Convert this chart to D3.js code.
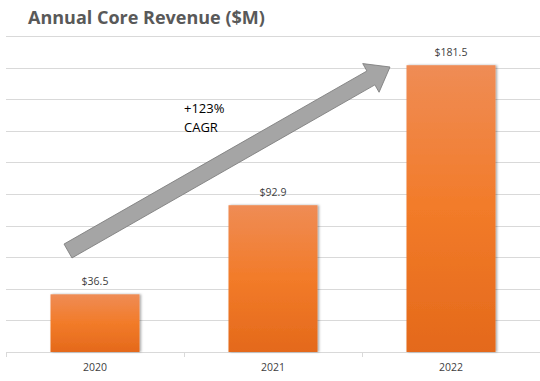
<!DOCTYPE html>
<html>
<head>
<meta charset="utf-8">
<script src="https://cdn.jsdelivr.net/npm/d3@7"></script>
<style>
  html, body { margin: 0; padding: 0; background: #fff; }
  svg { display: block; }
</style>
</head>
<body>
<svg id="chart" width="540" height="381"></svg>
<script>
const categories = ["2020", "2021", "2022"];
const revenue = [36.5, 92.9, 181.5];
const valueLabels = ["$36.5", "$92.9", "$181.5"];
const yTicks = [0, 20, 40, 60, 80, 100, 120, 140, 160, 180, 200];
const title = "Annual Core Revenue ($M)";
const annotation = ["+123%", "CAGR"];

const svg = d3.select("#chart");
const W = 540, H = 381;
const x = d3.scaleBand().domain(categories).range([6, 540]).paddingInner(0.5).paddingOuter(0.25);
const y = d3.scaleLinear().domain([0, 200]).range([352, 36]);

const defs = svg.append("defs");
const grad = defs.append("linearGradient").attr("id", "barGrad")
  .attr("x1", 0).attr("y1", 0).attr("x2", 0).attr("y2", 1);
grad.append("stop").attr("offset", "0%").attr("stop-color", "#EF8C55");
grad.append("stop").attr("offset", "50%").attr("stop-color", "#F27B29");
grad.append("stop").attr("offset", "100%").attr("stop-color", "#E4691B");
const filt = defs.append("filter").attr("id", "shadow").attr("x", "-10%").attr("y", "-10%").attr("width", "130%").attr("height", "120%");
filt.append("feDropShadow").attr("dx", 1.5).attr("dy", 0).attr("stdDeviation", 1.2)
  .attr("flood-color", "#000").attr("flood-opacity", 0.35);

// gridlines
svg.append("g").selectAll("line").data(yTicks).join("line")
  .attr("x1", 6).attr("x2", 540)
  .attr("y1", d => Math.round(y(d)) + 0.5).attr("y2", d => Math.round(y(d)) + 0.5)
  .attr("stroke", "#D9D9D9").attr("stroke-width", 1);

// x axis ticks at category boundaries
const bounds = [6].concat(categories.map(c => x(c) + x.bandwidth() + x.step() * 0.25));
svg.append("g").selectAll("line").data(bounds.slice(0, 3)).join("line")
  .attr("x1", d => Math.round(d) + 0.5).attr("x2", d => Math.round(d) + 0.5)
  .attr("y1", y(0)).attr("y2", y(0) + 5)
  .attr("stroke", "#D9D9D9");

// bars
svg.append("g").selectAll("rect").data(revenue).join("rect")
  .attr("x", (d, i) => x(categories[i]))
  .attr("width", x.bandwidth())
  .attr("y", d => y(d))
  .attr("height", d => y(0) - y(d))
  .attr("fill", "url(#barGrad)")
  .attr("filter", "url(#shadow)");

// value labels
svg.append("g").selectAll("text").data(revenue).join("text")
  .attr("x", (d, i) => x(categories[i]) + x.bandwidth() / 2)
  .attr("y", d => y(d) - 9)
  .attr("text-anchor", "middle")
  .attr("font-family", "Open Sans, sans-serif").attr("font-size", 10.5)
  .attr("fill", "#404040")
  .text((d, i) => valueLabels[i]);

// category labels
svg.append("g").selectAll("text").data(categories).join("text")
  .attr("x", d => x(d) + x.bandwidth() / 2)
  .attr("y", 371)
  .attr("text-anchor", "middle")
  .attr("font-family", "Open Sans, sans-serif").attr("font-size", 10.5)
  .attr("fill", "#404040")
  .text(d => d);

// title
svg.append("text").attr("x", 28).attr("y", 24)
  .attr("font-family", "Open Sans, sans-serif").attr("font-size", 18).attr("font-weight", "bold")
  .attr("fill", "#595959")
  .text(title);

// arrow
const tail = [68, 251], tip = [390, 67];
const dx = tip[0] - tail[0], dy = tip[1] - tail[1];
const len = Math.hypot(dx, dy);
const ang = Math.atan2(dy, dx) * 180 / Math.PI;
const sw = 8, hw = 16.5, hl = 22;
const pts = [[0, -sw], [len - hl, -sw], [len - hl, -hw], [len, 0], [len - hl, hw], [len - hl, sw], [0, sw]];
svg.append("polygon")
  .attr("points", pts.map(p => p.join(",")).join(" "))
  .attr("transform", `translate(${tail[0]},${tail[1]}) rotate(${ang})`)
  .attr("fill", "#A5A5A5").attr("stroke", "#7F7F7F").attr("stroke-width", 0.8);

// annotation
svg.append("g").selectAll("text").data(annotation).join("text")
  .attr("x", 184).attr("y", (d, i) => 113 + i * 18.5)
  .attr("font-family", "Open Sans, sans-serif").attr("font-size", 13)
  .attr("fill", "#000")
  .text(d => d);
</script>
</body>
</html>
